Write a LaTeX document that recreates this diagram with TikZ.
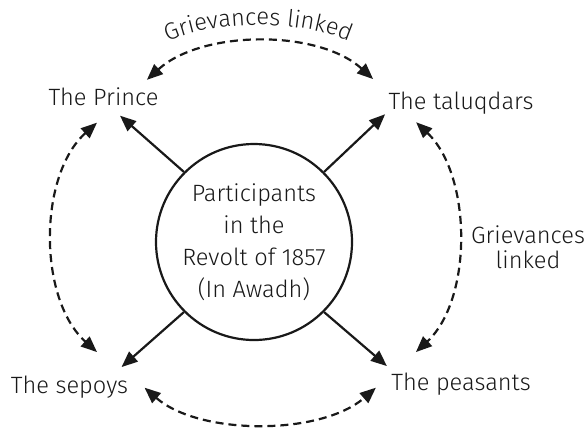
\documentclass[tikz,border=0pt]{standalone}
\usepackage{fontspec}
\setmainfont{Fira Sans}[UprightFont=* Light]
\usetikzlibrary{arrows.meta,decorations.text}
\newcommand{\lblfont}{\fontsize{11.8}{14}\selectfont}
\newcommand{\circfont}{\fontsize{11.8}{16}\selectfont}
\newcommand{\sidefont}{\fontsize{11.8}{12.5}\selectfont}
\tikzset{
  lbl/.style={inner sep=0pt, font=\lblfont, text=black!90, anchor=base},
  solidarr/.style={-{Triangle[length=8pt,width=6.5pt]}, line width=1.1pt, black!90},
  dasharr/.style={{Triangle[length=8pt,width=6.5pt]}-{Triangle[length=8pt,width=6.5pt]}, line width=1.1pt, dash pattern=on 4pt off 2.5pt, black!90},
  hub/.style={circle, draw=black!90, line width=1.1pt, minimum size=98pt, inner sep=0pt, align=center, font=\circfont, text=black!90}
}
\begin{document}
\begin{tikzpicture}[x=0.5pt,y=-0.5pt]
\useasboundingbox (0,0) rectangle (587,430);
\fill[white] (0,0) rectangle (587,430);
% hub
\node[hub] (c) at (254,242) {Participants\\in the\\Revolt of 1857\\(In Awadh)};
% labels
\node[lbl] (prince) at (103.5,105) {The Prince};
\node[lbl] (tal) at (461,109) {The taluqdars};
\node[lbl] (sep) at (69.5,393) {The sepoys};
\node[lbl] (pea) at (461,390) {The peasants};
\node[lbl, anchor=center, align=center, font=\sidefont] (side) at (528,247) {Grievances\\linked};
% solid arrows
\draw[solidarr] (c.135) -- ([shift={(16.5,10)}]prince.south);
\draw[solidarr] (c.45) -- ([shift={(-3,0)}]tal.south west);
\draw[solidarr] (c.225) -- ([shift={(-7,-8)}]sep.north east);
\draw[solidarr] (c.-45) -- ([shift={(-4,-6)}]pea.north west);
% dashed arcs
\draw[dasharr] ([shift={(-12,-7)}]prince.north east) .. controls +(55,-50) and +(-55,-50) .. ([shift={(-15,-12)}]tal.north west);
\draw[dasharr] ([shift={(-6.5,17)}]prince.south) .. controls +(-59,53) and +(-59,-53) .. ([shift={(27.5,-23)}]sep.north);
\draw[dasharr] ([shift={(28,8)}]tal.south west) .. controls +(56,53) and +(57,-53) .. ([shift={(25,-20)}]pea.north west);
\draw[dasharr] ([shift={(16,1)}]sep.east) .. controls +(55,48) and +(-55,48) .. ([shift={(-15,4)}]pea.west);
% curved label
\path[decorate, decoration={text along path, text={|\lblfont\color{black!90}|Grievances linked}, text align=center}] (158,46) .. controls +(50,-28) and +(-50,-28) .. (359,46);
\end{tikzpicture}
\end{document}
